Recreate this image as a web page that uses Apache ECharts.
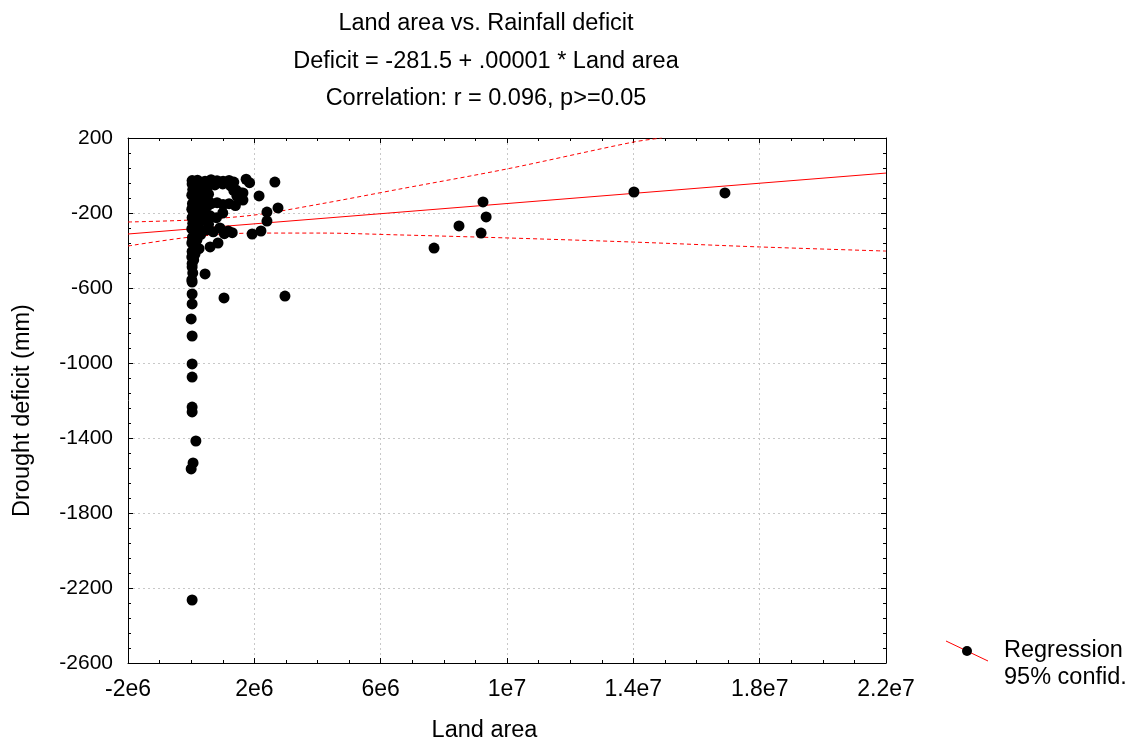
<!DOCTYPE html>
<html>
<head>
<meta charset="utf-8">
<script src="https://cdn.jsdelivr.net/npm/echarts@6/dist/echarts.min.js"></script>
<style>html,body{margin:0;padding:0;background:#fff}#c{width:1125px;height:738px}</style>
</head>
<body>
<div id="c"></div>
<script>
// ---- data ----
const landArea = [
  30000, 200000, 440000, 630000, 820000, 1010000, 1200000, 1350000, 1740000, 1850000, 2650000,
  30000, 150000, 50000, 250000, 20000, 120000, 300000, 40000, 200000, 20000, 100000, 280000, 30000, 150000, 50000,
  220000, 20000, 120000, 300000, 40000, 180000, 20000, 100000, 250000, 30000, 120000, 20000, 80000, 30000,
  30000, 50000, 20000, 440000, 30000, 30000, 30000, 0, 30000, 30000, 30000, 30000, 30000, 150000, 60000, 0, 30000,
  1040000, 2970000,
  350000, 500000, 400000, 550000, 350000, 500000, 600000, 400000,
  1000000, 1250000, 750000,
  1420000, 1580000, 1640000, 1350000, 1450000,
  630000, 820000, 1010000, 1200000, 1400000, 500000,
  1640000, 2150000, 2750000, 2400000, 2400000, 2210000, 1930000,
  910000, 1170000, 600000, 850000, 500000, 700000, 1300000, 1050000,
  400000, 600000, 800000, 350000, 550000, 1000000,
  7690000, 8480000, 9180000, 9240000, 9340000, 14020000, 16900000
];
const deficit = [
  -27, -25, -30, -22, -28, -30, -26, -35, -20, -38, -35,
  -45, -60, -75, -90, -105, -120, -135, -150, -165, -180, -195, -210, -225, -240, -255,
  -270, -285, -300, -315, -330, -345, -360, -375, -390, -405, -420, -435, -450, -470,
  -488, -520, -557, -525, -568, -632, -685, -765, -856, -1005, -1075, -1235, -1261, -1416, -1533, -1565, -2264,
  -653, -643,
  -50, -65, -85, -100, -115, -130, -145, -160,
  -45, -55, -50,
  -77, -93, -131, -80, -110,
  -150, -145, -155, -150, -160, -165,
  -93, -109, -173, -195, -243, -296, -312,
  -280, -296, -381, -360, -290, -300, -305, -310,
  -200, -215, -225, -240, -260, -200,
  -387, -269, -307, -141, -221, -88, -93
];
// regression line and 95% confidence bands
const regX = [-2000000, 22000000];
const regY = [-312, 13];
const upperX = [-2000000, 30000, 1990000, 4080000, 6610000, 10000000, 14020000, 14900000];
const upperY = [-248, -237, -211, -152, -72, 35, 179, 200];
const lowerX = [-2000000, 0, 2000000, 4080000, 6610000, 10000000, 14000000, 18000000, 22000000];
const lowerY = [-376, -328, -307, -307, -317, -333, -355, -381, -403];

const titleLines = ['Land area vs. Rainfall deficit', 'Deficit = -281.5 + .00001 * Land area', 'Correlation: r = 0.096, p>=0.05'];
const xTickLabels = ['-2e6', '2e6', '6e6', '1e7', '1.4e7', '1.8e7', '2.2e7'];
const xMin = -2000000, xMax = 22000000, xStep = 4000000;
const yMin = -2600, yMax = 200, yStep = 400;
const xName = 'Land area';
const yName = 'Drought deficit (mm)';
const legendLines = ['Regression', '95% confid.'];

const FONT = 'Arial, "Liberation Sans", sans-serif';
const BIG = 23.5;   // title / axis names / legend
const XTICK = 23;   // x tick labels
const YTICK = 21;   // y tick labels
const zip = (a, b) => a.map((v, i) => [v, b[i]]);

const chart = echarts.init(document.getElementById('c'), null, {renderer: 'canvas'});

const baseAxis = {
  axisLine: {show: true, onZero: false, lineStyle: {color: '#000', width: 1}},
  axisTick: {show: true, inside: true, length: 5, lineStyle: {color: '#000'}},
  minorTick: {show: true, length: 3, lineStyle: {color: '#000'}},
};
const gridLine = {show: true, lineStyle: {color: '#c8c8c8', type: [2, 3], width: 1}};

const option = {
  backgroundColor: '#fff',
  animation: false,
  title: {
    text: titleLines.join('\n'),
    left: 486, top: 5, textAlign: 'center', padding: 0,
    textStyle: {fontFamily: FONT, fontSize: BIG, fontWeight: 'normal', color: '#000', lineHeight: 37.5}
  },
  grid: {left: 128, right: 239, top: 138, bottom: 75, containLabel: false, outerBoundsMode: 'none'},
  xAxis: [
    Object.assign({}, baseAxis, {
      type: 'value', position: 'bottom', min: xMin, max: xMax, interval: xStep,
      minorTick: Object.assign({}, baseAxis.minorTick, {splitNumber: 4}),
      splitLine: gridLine,
      axisLabel: {color: '#000', fontFamily: FONT, fontSize: XTICK, margin: 15,
        formatter: v => xTickLabels[Math.round((v - xMin) / xStep)] || ''},
      name: xName, nameLocation: 'middle', nameGap: 56,
      nameTextStyle: {color: '#000', fontFamily: FONT, fontSize: BIG, padding: [0, 45, 0, 0]}
    }),
    Object.assign({}, baseAxis, {
      type: 'value', position: 'top', min: xMin, max: xMax, interval: xStep,
      minorTick: Object.assign({}, baseAxis.minorTick, {splitNumber: 4}),
      splitLine: {show: false}, axisLabel: {show: false}
    })
  ],
  yAxis: [
    Object.assign({}, baseAxis, {
      type: 'value', position: 'left', min: yMin, max: yMax, interval: yStep,
      minorTick: Object.assign({}, baseAxis.minorTick, {splitNumber: 5}),
      splitLine: gridLine,
      axisLabel: {color: '#000', fontFamily: FONT, fontSize: YTICK, margin: 15, formatter: v => String(v)},
      name: yName, nameLocation: 'middle', nameGap: 93, nameRotate: 90,
      nameTextStyle: {color: '#000', fontFamily: FONT, fontSize: BIG, padding: [0, 20, 0, 0]}
    }),
    Object.assign({}, baseAxis, {
      type: 'value', position: 'right', min: yMin, max: yMax, interval: yStep,
      minorTick: Object.assign({}, baseAxis.minorTick, {splitNumber: 5}),
      splitLine: {show: false}, axisLabel: {show: false}
    })
  ],
  series: [
    {
      type: 'line', data: zip(regX, regY), symbol: 'none', silent: true, clip: true,
      lineStyle: {color: '#ff0000', width: 1}, z: 3
    },
    {
      type: 'line', data: zip(upperX, upperY), symbol: 'none', smooth: 0.3, silent: true, clip: true,
      lineStyle: {color: '#ff0000', width: 1, type: [4, 3]}, z: 3
    },
    {
      type: 'line', data: zip(lowerX, lowerY), symbol: 'none', smooth: 0.3, silent: true, clip: true,
      lineStyle: {color: '#ff0000', width: 1, type: [4, 3]}, z: 3
    },
    {
      type: 'scatter', data: zip(landArea, deficit), symbol: 'circle', symbolSize: 11,
      itemStyle: {color: '#000', opacity: 1}, z: 4
    }
  ],
  graphic: [
    {type: 'line', shape: {x1: 946, y1: 641, x2: 988, y2: 661}, style: {stroke: '#ff0000', lineWidth: 1}},
    {type: 'circle', shape: {cx: 967, cy: 651, r: 5}, style: {fill: '#000'}},
    {type: 'text', left: 1004, top: 637, style: {text: legendLines.join('\n'), font: BIG + 'px ' + FONT, fill: '#000', lineHeight: 27}}
  ]
};
chart.setOption(option);
</script>
</body>
</html>
